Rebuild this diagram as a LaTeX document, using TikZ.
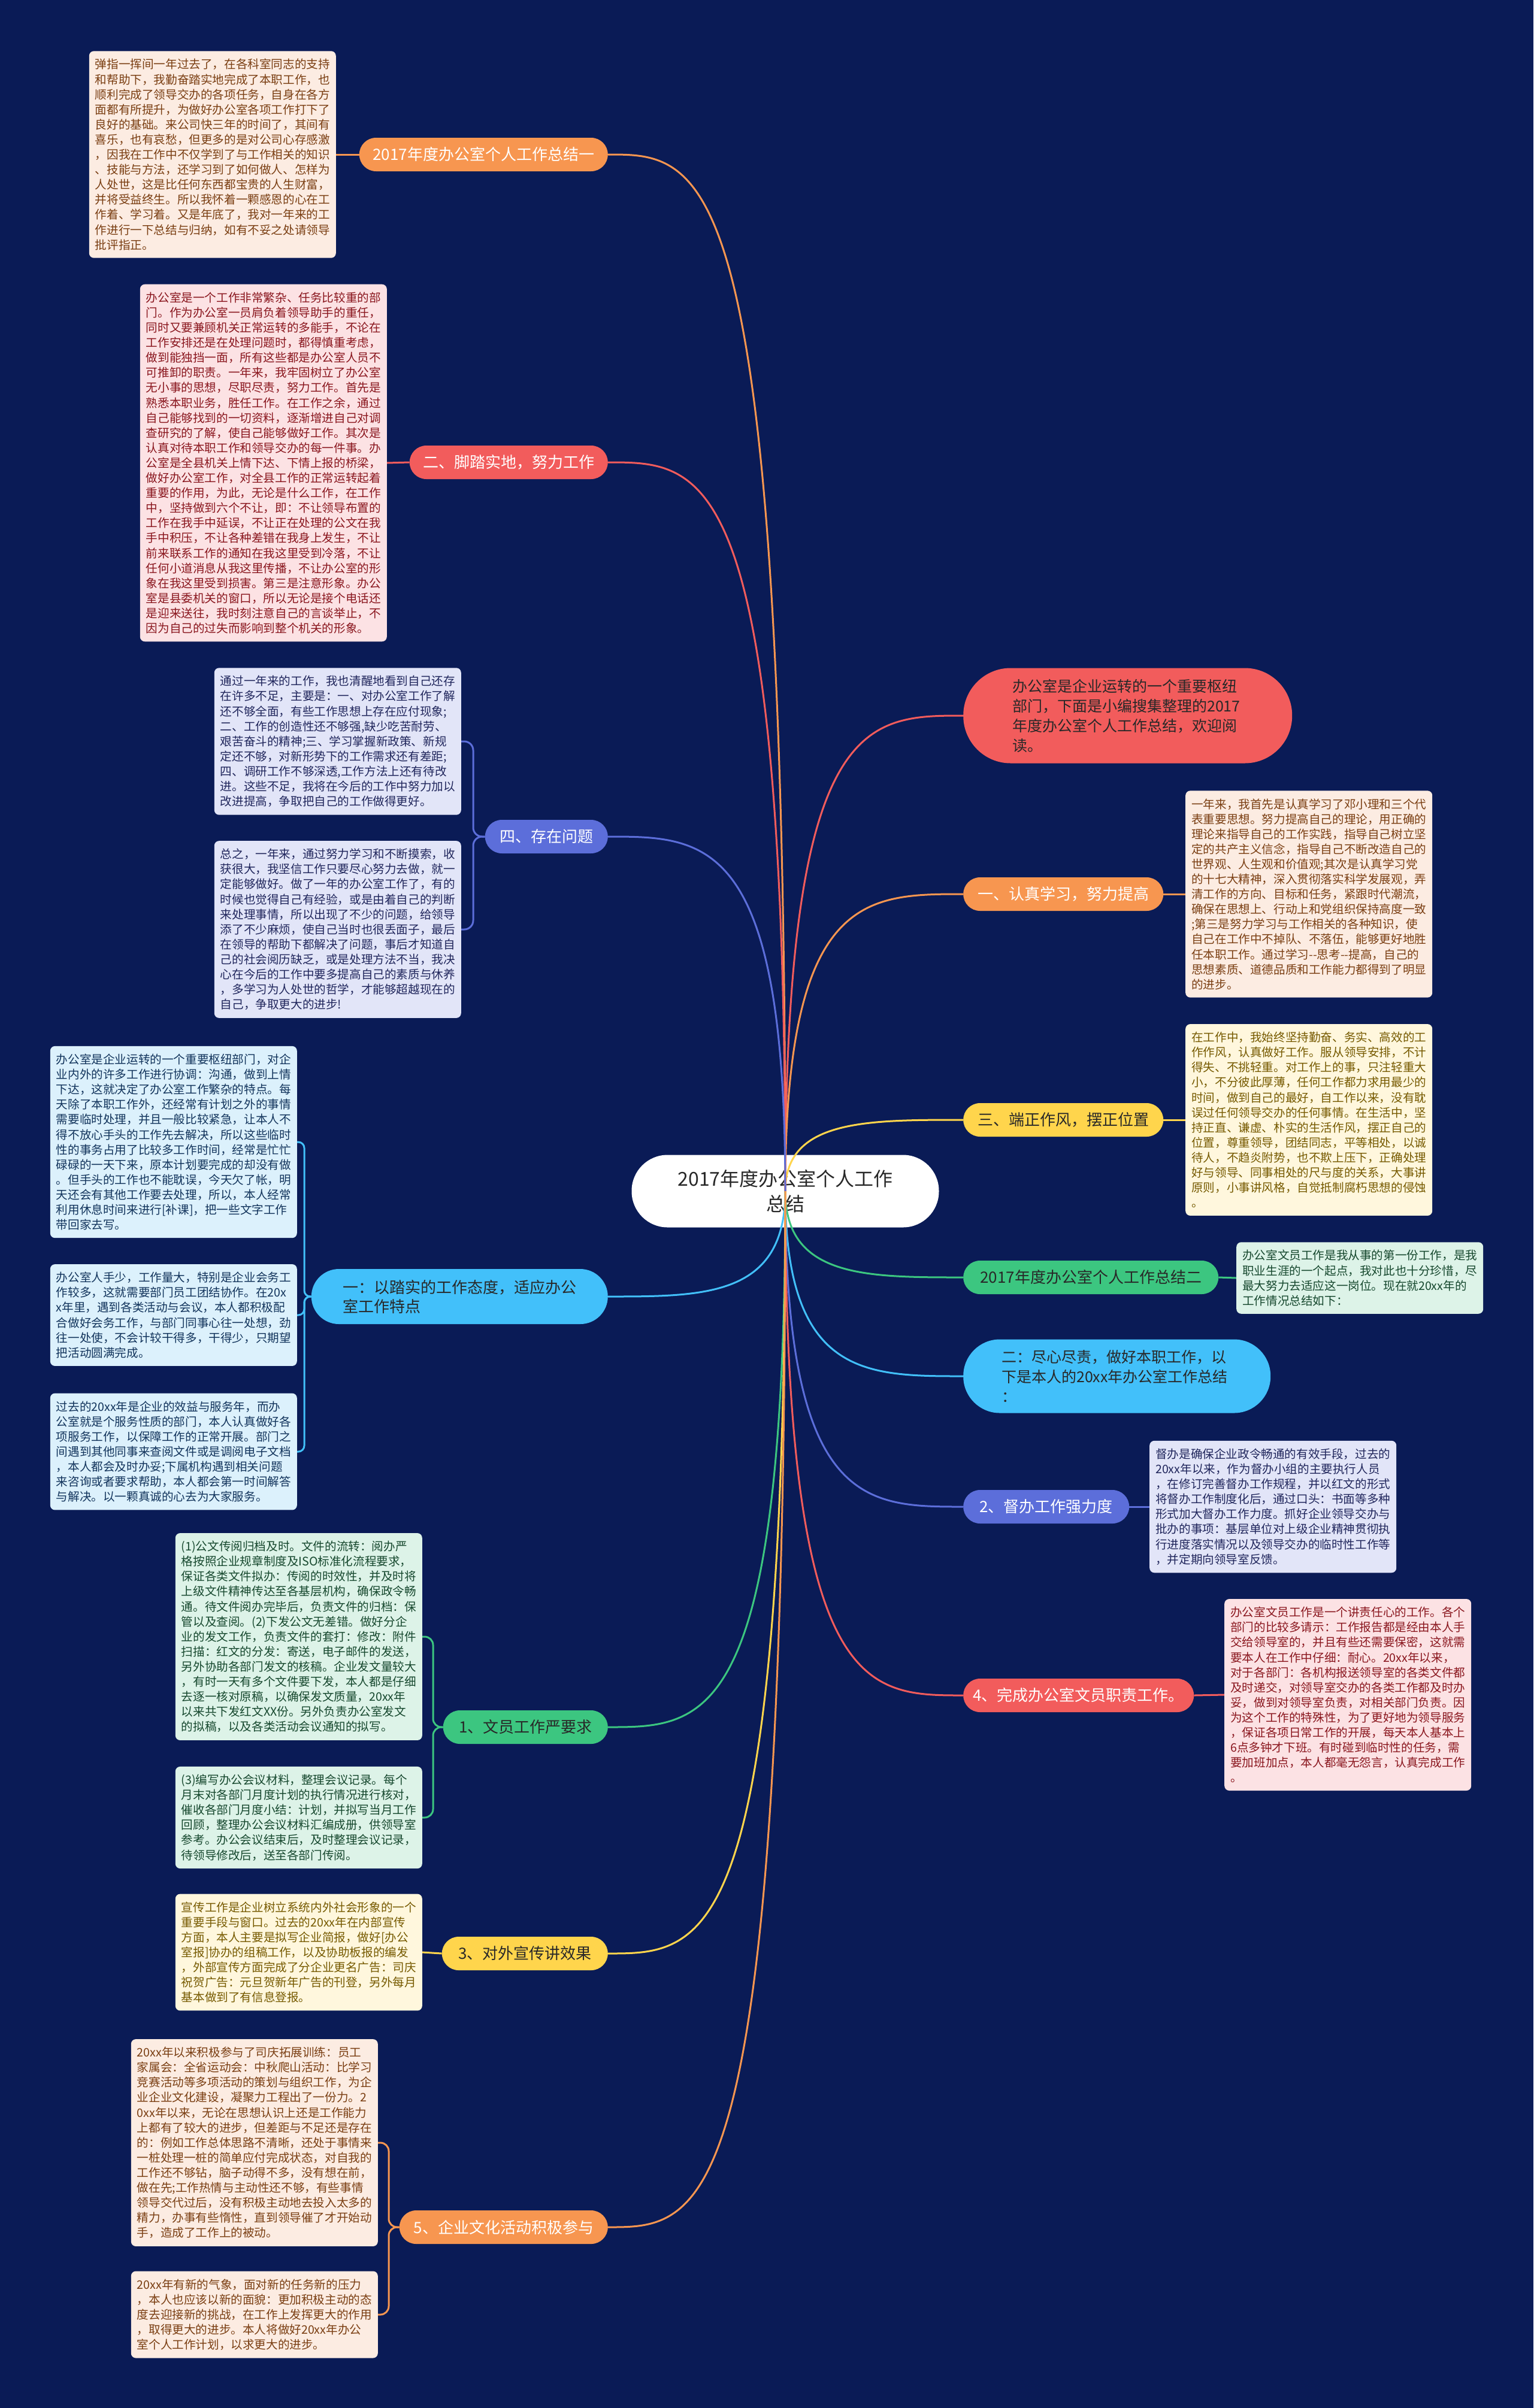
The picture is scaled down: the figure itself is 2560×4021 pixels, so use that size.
\documentclass[tikz,border=0pt]{standalone}
\usepackage{fontspec}
\setmainfont{Noto Sans CJK SC}
\usetikzlibrary{calc}
\pgfdeclarelayer{back}
\pgfdeclarelayer{lines}
\pgfsetlayers{back,lines,main}

\definecolor{bgc}{RGB}{10,27,86}
\definecolor{cO}{RGB}{247,150,80}
\definecolor{cR}{RGB}{242,92,92}
\definecolor{cY}{RGB}{255,213,76}
\definecolor{cG}{RGB}{60,198,128}
\definecolor{cB}{RGB}{66,192,250}
\definecolor{cP}{RGB}{92,110,218}
\definecolor{fO}{RGB}{252,236,226}
\definecolor{tO}{RGB}{122,62,18}
\definecolor{fR}{RGB}{252,226,228}
\definecolor{tR}{RGB}{138,22,30}
\definecolor{fP}{RGB}{226,229,248}
\definecolor{tP}{RGB}{32,38,92}
\definecolor{fB}{RGB}{220,241,252}
\definecolor{tB}{RGB}{18,52,92}
\definecolor{fG}{RGB}{221,243,232}
\definecolor{tG}{RGB}{22,72,46}
\definecolor{fY}{RGB}{255,247,221}
\definecolor{tY}{RGB}{118,90,0}
\definecolor{dk}{RGB}{40,40,40}

\tikzset{
 conn/.style={line width=3pt},
 txtbox/.style={rounded corners=8pt, inner xsep=10pt, inner ysep=13pt, text width=392pt, align=left, font=\fontsize{19.6pt}{25.1pt}\selectfont},
 lbl/.style={rounded corners=28pt, minimum height=56pt, inner xsep=8pt, inner ysep=0pt, font=\fontsize{26pt}{32pt}\selectfont},
 bO/.style={txtbox, fill=fO, text=tO},
 bR/.style={txtbox, fill=fR, text=tR},
 bP/.style={txtbox, fill=fP, text=tP},
 bB/.style={txtbox, fill=fB, text=tB},
 bG/.style={txtbox, fill=fG, text=tG},
 bY/.style={txtbox, fill=fY, text=tY},
 lO/.style={lbl, fill=cO, text=white},
 lR/.style={lbl, fill=cR, text=white},
 lP/.style={lbl, fill=cP, text=white},
 lB/.style={lbl, fill=cB, text=dk},
 lG/.style={lbl, fill=cG, text=dk},
 lY/.style={lbl, fill=cY, text=dk},
 callout/.style={align=left, inner ysep=0pt, font=\fontsize{25pt}{33pt}\selectfont, text=dk},
}

\begin{document}
\begin{tikzpicture}[x=1pt,y=-1pt]
\useasboundingbox (0,0) rectangle (2560,4021);
\begin{pgfonlayer}{back}
\fill[bgc] (0,0) rectangle (2560,4021);
\node[fill=white, rounded corners=60pt, minimum width=513pt, minimum height=121pt, align=center, text=dk, font=\fontsize{32pt}{42pt}\selectfont] (ctr) at (1311,1989) {2017年度办公室个人工作\\总结};
\end{pgfonlayer}

% ---------- right side ----------
\node[callout, fill=cR, rounded corners=79pt, minimum height=159pt, text width=385pt, inner xsep=82pt, anchor=west] (R0) at (1608,1195) {办公室是企业运转的一个重要枢纽\\部门，下面是小编搜集整理的2017\\年度办公室个人工作总结，欢迎阅\\读。};
\node[lO, minimum width=334pt, anchor=west] (R1) at (1608,1493) {一、认真学习，努力提高};
\node[lY, minimum width=334pt, anchor=west] (R2) at (1608,1870) {三、端正作风，摆正位置};
\node[lG, minimum width=426pt, anchor=west] (R3) at (1608,2133) {2017年度办公室个人工作总结二};
\node[callout, fill=cB, rounded corners=61pt, minimum height=123pt, text width=385pt, inner xsep=64pt, anchor=west] (R4) at (1608,2298) {二：尽心尽责，做好本职工作，以\\下是本人的20xx年办公室工作总结\\：};
\node[lP, minimum width=277pt, anchor=west] (R5) at (1608,2516) {2、督办工作强力度};
\node[lR, minimum width=385pt, anchor=west] (R6) at (1608,2831) {4、完成办公室文员职责工作。};

\node[bO, anchor=west] (T1) at (1979,1493) {一年来，我首先是认真学习了邓小理和三个代\\表重要思想。努力提高自己的理论，用正确的\\理论来指导自己的工作实践，指导自己树立坚\\定的共产主义信念，指导自己不断改造自己的\\世界观、人生观和价值观;其次是认真学习党\\的十七大精神，深入贯彻落实科学发展观，弄\\清工作的方向、目标和任务，紧跟时代潮流，\\确保在思想上、行动上和党组织保持高度一致\\;第三是努力学习与工作相关的各种知识，使\\自己在工作中不掉队、不落伍，能够更好地胜\\任本职工作。通过学习-{}-思考-{}-提高，自己的\\思想素质、道德品质和工作能力都得到了明显\\的进步。};
\node[bY, anchor=west] (T2) at (1979,1870) {在工作中，我始终坚持勤奋、务实、高效的工\\作作风，认真做好工作。服从领导安排，不计\\得失、不挑轻重。对工作上的事，只注轻重大\\小，不分彼此厚薄，任何工作都力求用最少的\\时间，做到自己的最好，自工作以来，没有耽\\误过任何领导交办的任何事情。在生活中，坚\\持正直、谦虚、朴实的生活作风，摆正自己的\\位置，尊重领导，团结同志，平等相处，以诚\\待人，不趋炎附势，也不欺上压下，正确处理\\好与领导、同事相处的尺与度的关系，大事讲\\原则，小事讲风格，自觉抵制腐朽思想的侵蚀\\。};
\node[bG, anchor=west] (T3) at (2064,2134) {办公室文员工作是我从事的第一份工作，是我\\职业生涯的一个起点，我对此也十分珍惜，尽\\最大努力去适应这一岗位。现在就20xx年的\\工作情况总结如下：};
\node[bP, anchor=west] (T5) at (1919,2516) {督办是确保企业政令畅通的有效手段，过去的\\20xx年以来，作为督办小组的主要执行人员\\，在修订完善督办工作规程，并以红文的形式\\将督办工作制度化后，通过口头：书面等多种\\形式加大督办工作力度。抓好企业领导交办与\\批办的事项：基层单位对上级企业精神贯彻执\\行进度落实情况以及领导交办的临时性工作等\\，并定期向领导室反馈。};
\node[bR, anchor=west] (T6) at (2044,2830) {办公室文员工作是一个讲责任心的工作。各个\\部门的比较多请示：工作报告都是经由本人手\\交给领导室的，并且有些还需要保密，这就需\\要本人在工作中仔细：耐心。20xx年以来，\\对于各部门：各机构报送领导室的各类文件都\\及时递交，对领导室交办的各类工作都及时办\\妥，做到对领导室负责，对相关部门负责。因\\为这个工作的特殊性，为了更好地为领导服务\\，保证各项日常工作的开展，每天本人基本上\\6点多钟才下班。有时碰到临时性的任务，需\\要加班加点，本人都毫无怨言，认真完成工作\\。};

% ---------- left side ----------
\node[lO, minimum width=415pt, anchor=east] (L1) at (1015,258) {2017年度办公室个人工作总结一};
\node[lR, minimum width=331pt, anchor=east] (L2) at (1015,772) {二、脚踏实地，努力工作};
\node[lP, minimum width=205pt, anchor=east] (L3) at (1015,1397) {四、存在问题};
\node[lB, minimum width=495pt, minimum height=92pt, rounded corners=46pt, align=left, anchor=east] (L4) at (1015,2165) {一：以踏实的工作态度，适应办公\\室工作特点};
\node[lG, minimum width=275pt, anchor=east] (L5) at (1015,2884) {1、文员工作严要求};
\node[lY, minimum width=277pt, anchor=east] (L6) at (1015,3262) {3、对外宣传讲效果};
\node[lO, minimum width=348pt, anchor=east] (L7) at (1015,3719) {5、企业文化活动积极参与};

\node[bO, anchor=east] (A) at (561,258) {弹指一挥间一年过去了，在各科室同志的支持\\和帮助下，我勤奋踏实地完成了本职工作，也\\顺利完成了领导交办的各项任务，自身在各方\\面都有所提升，为做好办公室各项工作打下了\\良好的基础。来公司快三年的时间了，其间有\\喜乐，也有哀愁，但更多的是对公司心存感激\\，因我在工作中不仅学到了与工作相关的知识\\、技能与方法，还学习到了如何做人、怎样为\\人处世，这是比任何东西都宝贵的人生财富，\\并将受益终生。所以我怀着一颗感恩的心在工\\作着、学习着。又是年底了，我对一年来的工\\作进行一下总结与归纳，如有不妥之处请领导\\批评指正。};
\node[bR, anchor=east] (B) at (646,773) {办公室是一个工作非常繁杂、任务比较重的部\\门。作为办公室一员肩负着领导助手的重任，\\同时又要兼顾机关正常运转的多能手，不论在\\工作安排还是在处理问题时，都得慎重考虑，\\做到能独挡一面，所有这些都是办公室人员不\\可推卸的职责。一年来，我牢固树立了办公室\\无小事的思想，尽职尽责，努力工作。首先是\\熟悉本职业务，胜任工作。在工作之余，通过\\自己能够找到的一切资料，逐渐增进自己对调\\查研究的了解，使自己能够做好工作。其次是\\认真对待本职工作和领导交办的每一件事。办\\公室是全县机关上情下达、下情上报的桥梁，\\做好办公室工作，对全县工作的正常运转起着\\重要的作用，为此，无论是什么工作，在工作\\中，坚持做到六个不让，即：不让领导布置的\\工作在我手中延误，不让正在处理的公文在我\\手中积压，不让各种差错在我身上发生，不让\\前来联系工作的通知在我这里受到冷落，不让\\任何小道消息从我这里传播，不让办公室的形\\象在我这里受到损害。第三是注意形象。办公\\室是县委机关的窗口，所以无论是接个电话还\\是迎来送往，我时刻注意自己的言谈举止，不\\因为自己的过失而影响到整个机关的形象。};
\node[bP, anchor=east] (C1) at (770,1238) {通过一年来的工作，我也清醒地看到自己还存\\在许多不足，主要是：一、对办公室工作了解\\还不够全面，有些工作思想上存在应付现象;\\二、工作的创造性还不够强,缺少吃苦耐劳、\\艰苦奋斗的精神;三、学习掌握新政策、新规\\定还不够，对新形势下的工作需求还有差距;\\四、调研工作不够深透,工作方法上还有待改\\进。这些不足，我将在今后的工作中努力加以\\改进提高，争取把自己的工作做得更好。};
\node[bP, anchor=east] (C2) at (770,1552) {总之，一年来，通过努力学习和不断摸索，收\\获很大，我坚信工作只要尽心努力去做，就一\\定能够做好。做了一年的办公室工作了，有的\\时候也觉得自己有经验，或是由着自己的判断\\来处理事情，所以出现了不少的问题，给领导\\添了不少麻烦，使自己当时也很丢面子，最后\\在领导的帮助下都解决了问题，事后才知道自\\己的社会阅历缺乏，或是处理方法不当，我决\\心在今后的工作中要多提高自己的素质与休养\\，多学习为人处世的哲学，才能够超越现在的\\自己，争取更大的进步!};
\node[bB, anchor=east] (D1) at (496,1907) {办公室是企业运转的一个重要枢纽部门，对企\\业内外的许多工作进行协调：沟通，做到上情\\下达，这就决定了办公室工作繁杂的特点。每\\天除了本职工作外，还经常有计划之外的事情\\需要临时处理，并且一般比较紧急，让本人不\\得不放心手头的工作先去解决，所以这些临时\\性的事务占用了比较多工作时间，经常是忙忙\\碌碌的一天下来，原本计划要完成的却没有做\\。但手头的工作也不能耽误，今天欠了帐，明\\天还会有其他工作要去处理，所以，本人经常\\利用休息时间来进行[补课]，把一些文字工作\\带回家去写。};
\node[bB, anchor=east] (D2) at (496,2196) {办公室人手少，工作量大，特别是企业会务工\\作较多，这就需要部门员工团结协作。在20x\\x年里，遇到各类活动与会议，本人都积极配\\合做好会务工作，与部门同事心往一处想，劲\\往一处使，不会计较干得多，干得少，只期望\\把活动圆满完成。};
\node[bB, anchor=east] (D3) at (496,2424) {过去的20xx年是企业的效益与服务年，而办\\公室就是个服务性质的部门，本人认真做好各\\项服务工作，以保障工作的正常开展。部门之\\间遇到其他同事来查阅文件或是调阅电子文档\\，本人都会及时办妥;下属机构遇到相关问题\\来咨询或者要求帮助，本人都会第一时间解答\\与解决。以一颗真诚的心去为大家服务。};
\node[bG, anchor=east] (E1) at (705,2733) {(1)公文传阅归档及时。文件的流转：阅办严\\格按照企业规章制度及ISO标准化流程要求，\\保证各类文件拟办：传阅的时效性，并及时将\\上级文件精神传达至各基层机构，确保政令畅\\通。待文件阅办完毕后，负责文件的归档：保\\管以及查阅。(2)下发公文无差错。做好分企\\业的发文工作，负责文件的套打：修改：附件\\扫描：红文的分发：寄送，电子邮件的发送，\\另外协助各部门发文的核稿。企业发文量较大\\，有时一天有多个文件要下发，本人都是仔细\\去逐一核对原稿，以确保发文质量，20xx年\\以来共下发红文XX份。另外负责办公室发文\\的拟稿，以及各类活动会议通知的拟写。};
\node[bG, anchor=east] (E2) at (705,3035) {(3)编写办公会议材料，整理会议记录。每个\\月末对各部门月度计划的执行情况进行核对，\\催收各部门月度小结：计划，并拟写当月工作\\回顾，整理办公会议材料汇编成册，供领导室\\参考。办公会议结束后，及时整理会议记录，\\待领导修改后，送至各部门传阅。};
\node[bY, anchor=east] (F) at (705,3260) {宣传工作是企业树立系统内外社会形象的一个\\重要手段与窗口。过去的20xx年在内部宣传\\方面，本人主要是拟写企业简报，做好[办公\\室报]协办的组稿工作，以及协助板报的编发\\，外部宣传方面完成了分企业更名广告：司庆\\祝贺广告：元旦贺新年广告的刊登，另外每月\\基本做到了有信息登报。};
\node[bO, anchor=east] (G1) at (631,3578) {20xx年以来积极参与了司庆拓展训练：员工\\家属会：全省运动会：中秋爬山活动：比学习\\竞赛活动等多项活动的策划与组织工作，为企\\业企业文化建设，凝聚力工程出了一份力。2\\0xx年以来，无论在思想认识上还是工作能力\\上都有了较大的进步，但差距与不足还是存在\\的：例如工作总体思路不清晰，还处于事情来\\一桩处理一桩的简单应付完成状态，对自我的\\工作还不够钻，脑子动得不多，没有想在前，\\做在先;工作热情与主动性还不够，有些事情\\领导交代过后，没有积极主动地去投入太多的\\精力，办事有些惰性，直到领导催了才开始动\\手，造成了工作上的被动。};
\node[bO, anchor=east] (G2) at (631,3865) {20xx年有新的气象，面对新的任务新的压力\\，本人也应该以新的面貌：更加积极主动的态\\度去迎接新的挑战，在工作上发挥更大的作用\\，取得更大的进步。本人将做好20xx年办公\\室个人工作计划，以求更大的进步。};

\coordinate (sC) at (790,1397);
\coordinate (sD) at (508,2165);
\coordinate (sE) at (723,2884);
\coordinate (sG) at (649,3719);

\begin{pgfonlayer}{lines}
% main connectors, right
\draw[conn,cR] (ctr.center) .. controls (ctr.center |- R0.west) and ($(ctr.center |- R0.west)!0.45!(R0.west)$) .. (R0.west);
\draw[conn,cO] (ctr.center) .. controls (ctr.center |- R1.west) and ($(ctr.center |- R1.west)!0.45!(R1.west)$) .. (R1.west);
\draw[conn,cY] (ctr.center) .. controls (ctr.center |- R2.west) and ($(ctr.center |- R2.west)!0.45!(R2.west)$) .. (R2.west);
\draw[conn,cG] (ctr.center) .. controls (ctr.center |- R3.west) and ($(ctr.center |- R3.west)!0.45!(R3.west)$) .. (R3.west);
\draw[conn,cB] (ctr.center) .. controls (ctr.center |- R4.west) and ($(ctr.center |- R4.west)!0.45!(R4.west)$) .. (R4.west);
\draw[conn,cP] (ctr.center) .. controls (ctr.center |- R5.west) and ($(ctr.center |- R5.west)!0.45!(R5.west)$) .. (R5.west);
\draw[conn,cR] (ctr.center) .. controls (ctr.center |- R6.west) and ($(ctr.center |- R6.west)!0.45!(R6.west)$) .. (R6.west);
% main connectors, left
\draw[conn,cO] (ctr.center) .. controls (ctr.center |- L1.east) and ($(ctr.center |- L1.east)!0.45!(L1.east)$) .. (L1.east);
\draw[conn,cR] (ctr.center) .. controls (ctr.center |- L2.east) and ($(ctr.center |- L2.east)!0.45!(L2.east)$) .. (L2.east);
\draw[conn,cP] (ctr.center) .. controls (ctr.center |- L3.east) and ($(ctr.center |- L3.east)!0.45!(L3.east)$) .. (L3.east);
\draw[conn,cB] (ctr.center) .. controls (ctr.center |- L4.east) and ($(ctr.center |- L4.east)!0.45!(L4.east)$) .. (L4.east);
\draw[conn,cG] (ctr.center) .. controls (ctr.center |- L5.east) and ($(ctr.center |- L5.east)!0.45!(L5.east)$) .. (L5.east);
\draw[conn,cY] (ctr.center) .. controls (ctr.center |- L6.east) and ($(ctr.center |- L6.east)!0.45!(L6.east)$) .. (L6.east);
\draw[conn,cO] (ctr.center) .. controls (ctr.center |- L7.east) and ($(ctr.center |- L7.east)!0.45!(L7.east)$) .. (L7.east);
% right children
\draw[conn,cO] (R1.east) -- (T1.west);
\draw[conn,cY] (R2.east) -- (T2.west);
\draw[conn,cG] (R3.east) -- (T3.west);
\draw[conn,cP] (R5.east) -- (T5.west);
\draw[conn,cR] (R6.east) -- (T6.west);
% left children
\draw[conn,cO] (L1.west) -- (A.east);
\draw[conn,cR] (L2.west) -- (B.east);
\draw[conn,cP,rounded corners=15pt] (L3.west) -- (sC) |- (C1.east);
\draw[conn,cP,rounded corners=15pt] (L3.west) -- (sC) |- (C2.east);
\draw[conn,cB,rounded corners=10pt] (L4.west) -- (sD) |- (D1.east);
\draw[conn,cB,rounded corners=10pt] (L4.west) -- (sD) |- (D2.east);
\draw[conn,cB,rounded corners=10pt] (L4.west) -- (sD) |- (D3.east);
\draw[conn,cG,rounded corners=14pt] (L5.west) -- (sE) |- (E1.east);
\draw[conn,cG,rounded corners=14pt] (L5.west) -- (sE) |- (E2.east);
\draw[conn,cY] (L6.west) -- (F.east);
\draw[conn,cO,rounded corners=14pt] (L7.west) -- (sG) |- (G1.east);
\draw[conn,cO,rounded corners=14pt] (L7.west) -- (sG) |- (G2.east);
\end{pgfonlayer}
\end{tikzpicture}
\end{document}
